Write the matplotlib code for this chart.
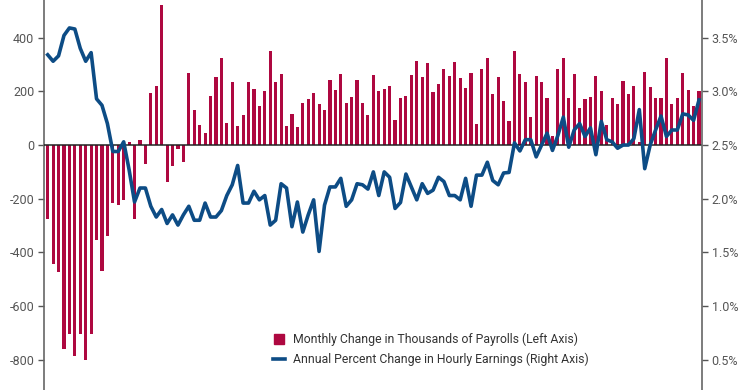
import matplotlib
matplotlib.use("Agg")
import matplotlib.pyplot as plt
from matplotlib.lines import Line2D
import numpy as np

# Monthly change in thousands of payrolls (Aug 2008 - Aug 2018)
payrolls = [
    -277, -443, -474, -759, -705, -785, -704, -801, -704, -354,
    -468, -339, -215, -225, -205, 10, -277, 19, -72, 195,
    221, 520, -139, -77, -15, -62, 267, 130, 74, 46,
    184, 253, 323, 81, 235, 72, 113, 233, 209, 145,
    202, 349, 233, 266, 72, 117, 67, 155, 173, 194,
    154, 129, 243, 206, 266, 155, 178, 241, 158, 110,
    261, 202, 210, 220, 94, 175, 182, 262, 312, 252,
    307, 196, 227, 284, 256, 308, 251, 211, 267, 78,
    282, 325, 191, 253, 164, 88, 350, 263, 233, 103,
    256, 236, 174, 34, 284, 324, 175, 264, 139, 171,
    180, 257, 200, 73, 175, 153, 238, 190, 220, 12,
    271, 215, 174, 175, 323, 154, 175, 269, 206, 146,
    201,
]

# Annual percent change in hourly earnings
earnings = [
    3.34, 3.28, 3.33, 3.52, 3.59, 3.58, 3.40, 3.28, 3.36, 2.93,
    2.87, 2.70, 2.44, 2.44, 2.53, 2.27, 1.97, 2.10, 2.10, 1.93,
    1.83, 1.90, 1.77, 1.85, 1.755, 1.85, 1.93, 1.80, 1.80, 1.96,
    1.83, 1.83, 1.89, 2.03, 2.13, 2.31, 1.96, 1.96, 2.07, 1.99,
    2.03, 1.755, 1.80, 2.14, 2.10, 1.74, 1.97, 1.69, 1.85, 1.99,
    1.51, 1.94, 2.11, 2.11, 2.19, 1.93, 1.99, 2.14, 2.13, 2.09,
    2.25, 2.03, 2.25, 2.20, 1.91, 1.965, 2.23, 2.11, 1.99, 2.14,
    2.05, 2.08, 2.20, 2.16, 2.03, 2.03, 1.99, 2.19, 1.93, 2.22,
    2.22, 2.34, 2.17, 2.13, 2.24, 2.245, 2.52, 2.445, 2.55, 2.55,
    2.39, 2.50, 2.61, 2.45, 2.59, 2.76, 2.48, 2.64, 2.70, 2.58,
    2.66, 2.41, 2.72, 2.55, 2.53, 2.47, 2.50, 2.50, 2.56, 2.83,
    2.28, 2.50, 2.64, 2.77, 2.58, 2.64, 2.64, 2.79, 2.78, 2.73,
    2.92,
]

left_ticks = [-800, -600, -400, -200, 0, 200, 400]
right_ticks = [0.5, 1.0, 1.5, 2.0, 2.5, 3.0, 3.5]

bar_label = "Monthly Change in Thousands of Payrolls (Left Axis)"
line_label = "Annual Percent Change in Hourly Earnings (Right Axis)"

bar_color = "#AE0840"
line_color = "#0D4C85"
text_color = "#555555"
font = ["Roboto", "DejaVu Sans"]

x = np.arange(len(payrolls))

fig = plt.figure(figsize=(7.45, 3.9), dpi=100)
ax = fig.add_axes([44 / 745, 0, 658 / 745, 1])
ax2 = ax.twinx()

ax.bar(x, payrolls, width=0.58, color=bar_color, linewidth=0, zorder=2)
ax.axhline(0, color="#222222", lw=1.1, zorder=3)

ylo, yhi = -912, 540
ax.set_ylim(ylo, yhi)
ax.set_xlim(-0.68, len(payrolls) - 1 + 0.55)
ax2.set_ylim(2.5 + ylo / 400, 2.5 + yhi / 400)

ax2.plot(x, earnings, color=line_color, lw=2.6, solid_joinstyle="round", zorder=4)
ax.set_zorder(1)
ax2.set_zorder(2)
ax2.patch.set_visible(False)

ax.set_yticks(left_ticks)
ax.set_yticklabels([str(v) for v in left_ticks])
ax2.set_yticks(right_ticks)
ax2.set_yticklabels([f"{v:.1f}%" for v in right_ticks])
ax.set_xticks([])

for a in (ax, ax2):
    for s in ("top", "bottom"):
        a.spines[s].set_visible(False)
    a.tick_params(axis="y", length=4, width=1, color="#555555", labelsize=9,
                  labelcolor=text_color, pad=3)
    for lab in a.get_yticklabels():
        lab.set_family(font)
ax.spines["left"].set_color("#666666")
ax.spines["left"].set_linewidth(1.2)
ax2.spines["right"].set_color("#666666")
ax2.spines["right"].set_linewidth(1.2)
ax2.spines["left"].set_visible(False)
ax.spines["right"].set_visible(False)

handles = [
    Line2D([], [], marker="s", color=bar_color, linestyle="none", markersize=7),
    Line2D([], [], color=line_color, lw=2.6),
]
leg = fig.legend(handles, [bar_label, line_label], loc="upper left",
                 bbox_to_anchor=(262 / 745, 1 - 322 / 390), frameon=False,
                 handlelength=1.0, handletextpad=0.6, labelspacing=0.5,
                 prop={"family": font, "size": 8.8})
for t in leg.get_texts():
    t.set_color("#333333")

fig.savefig("out.png", dpi=100)
